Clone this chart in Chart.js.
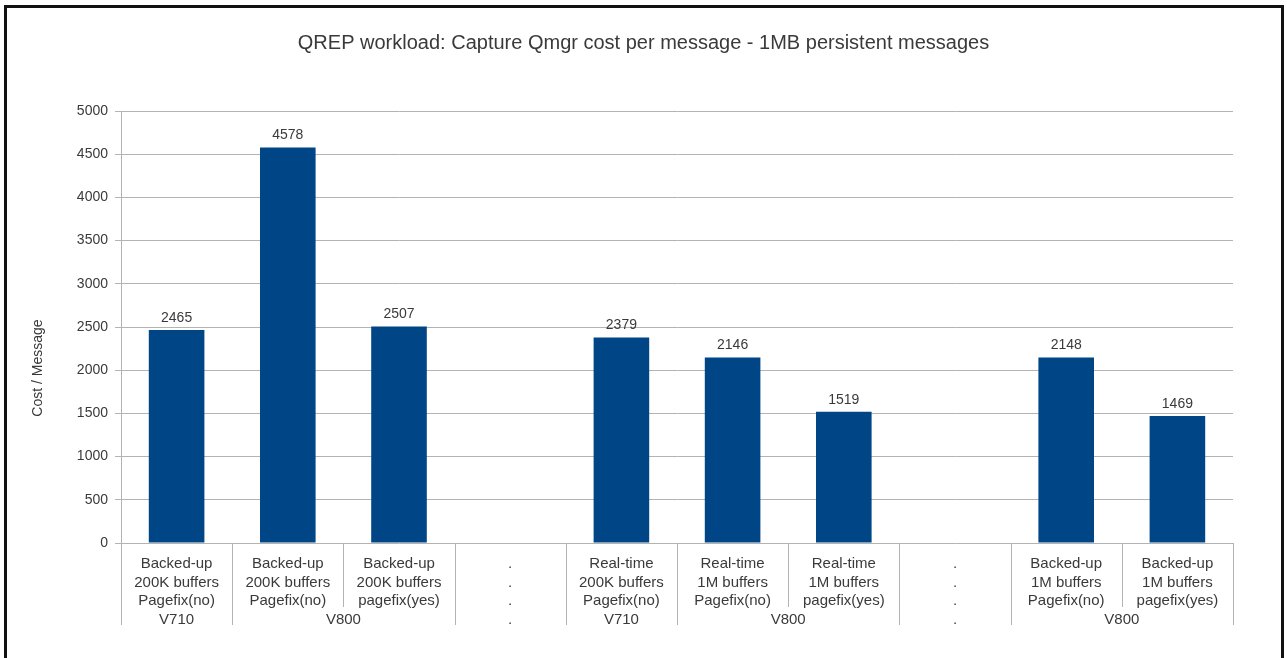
<!DOCTYPE html>
<html>
<head>
<meta charset="utf-8">
<script src="https://cdn.jsdelivr.net/npm/chart.js@4.4.1/dist/chart.umd.min.js"></script>
<style>
  html, body { margin: 0; padding: 0; background: #fff; overflow: hidden; }
  #wrap { position: relative; width: 1287px; height: 658px; }
  #frame {
    position: absolute; left: 4px; top: 5px; width: 1274px; height: 700px;
    border: 3px solid #111; box-sizing: content-box; pointer-events: none;
  }
  canvas { position: absolute; left: 0; top: 0; }
</style>
</head>
<body>
<div id="wrap">
  <canvas id="chart" width="1287" height="658"></canvas>
  <div id="frame"></div>
</div>
<script>
// data
const categories = [
    ["Backed-up", "200K buffers", "Pagefix(no)"],
    ["Backed-up", "200K buffers", "Pagefix(no)"],
    ["Backed-up", "200K buffers", "pagefix(yes)"],
    [".", ".", "."],
    ["Real-time", "200K buffers", "Pagefix(no)"],
    ["Real-time", "1M buffers", "Pagefix(no)"],
    ["Real-time", "1M buffers", "pagefix(yes)"],
    [".", ".", "."],
    ["Backed-up", "1M buffers", "Pagefix(no)"],
    ["Backed-up", "1M buffers", "pagefix(yes)"]
];
const costPerMessage = [2465, 4578, 2507, null, 2379, 2146, 1519, null, 2148, 1469];
const groupLabels = ["V710", "V800", ".", "V710", "V800", ".", "V800"];
const groupSpans = [1, 2, 1, 1, 2, 1, 2];
const yTicks = [0, 500, 1000, 1500, 2000, 2500, 3000, 3500, 4000, 4500, 5000];
const chartTitle = 'QREP workload: Capture Qmgr cost per message - 1MB persistent messages';
const yTitle = 'Cost / Message';

const textColor = '#3a3a3a';
const gridColor = '#b3b3b3';
const barColor = '#004586';
const fontFamily = '"Liberation Sans", Arial, sans-serif';

// value labels above the bars
const valueLabels = {
    id: 'valueLabels',
    afterDatasetsDraw(chart) {
        const ctx = chart.ctx;
        const meta = chart.getDatasetMeta(0);
        ctx.save();
        ctx.font = '14px ' + fontFamily;
        ctx.fillStyle = textColor;
        ctx.textAlign = 'center';
        ctx.textBaseline = 'bottom';
        meta.data.forEach((bar, i) => {
            const v = costPerMessage[i];
            if (v == null) return;
            ctx.fillText(String(v), bar.x, bar.y - 5);
        });
        ctx.restore();
    }
};

// title, y title, second row of the category axis (versions) + divider lines
const extras = {
    id: 'extras',
    afterDraw(chart) {
        const ctx = chart.ctx;
        const x = chart.scales.x;
        const n = categories.length;
        const step = x.getPixelForValue(1) - x.getPixelForValue(0);
        const edge = i => x.getPixelForValue(i) - step / 2;
        const top = x.top;
        const shortBottom = top + 64;
        const fullBottom = top + 82;

        const bounds = [0];
        groupSpans.forEach(s => bounds.push(bounds[bounds.length - 1] + s));

        ctx.save();
        ctx.strokeStyle = gridColor;
        ctx.lineWidth = 1;
        for (let i = 0; i <= n; i++) {
            const px = Math.round(edge(i)) + 0.5;
            const full = bounds.includes(i);
            ctx.beginPath();
            ctx.moveTo(px, top);
            ctx.lineTo(px, full ? fullBottom : shortBottom);
            ctx.stroke();
        }

        ctx.font = '15px ' + fontFamily;
        ctx.fillStyle = textColor;
        ctx.textAlign = 'center';
        ctx.textBaseline = 'middle';
        groupLabels.forEach((lbl, g) => {
            const cx = (edge(bounds[g]) + edge(bounds[g + 1])) / 2;
            ctx.fillText(lbl, cx, top + 77);
        });

        // chart title, centred on the whole picture
        ctx.font = '20px ' + fontFamily;
        ctx.fillText(chartTitle, chart.width / 2, 43);

        // y axis title
        ctx.save();
        ctx.font = '14px ' + fontFamily;
        ctx.translate(38, (chart.chartArea.top + fullBottom) / 2);
        ctx.rotate(-Math.PI / 2);
        ctx.fillText(yTitle, 0, 0);
        ctx.restore();
        ctx.restore();
    }
};

const ctx = document.getElementById('chart').getContext('2d');
new Chart(ctx, {
    type: 'bar',
    data: {
        labels: categories,
        datasets: [{
            label: yTitle,
            data: costPerMessage,
            backgroundColor: barColor,
            borderWidth: 0,
            barPercentage: 0.5,
            categoryPercentage: 1.0
        }]
    },
    options: {
        responsive: false,
        animation: false,
        layout: { padding: { left: 0, right: 54, top: 111, bottom: 0 } },
        plugins: {
            legend: { display: false },
            tooltip: { enabled: false },
            title: { display: false }
        },
        scales: {
            x: {
                offset: true,
                grid: { display: false },
                border: { display: false },
                ticks: {
                    color: textColor,
                    font: { family: fontFamily, size: 15, lineHeight: 1.22 },
                    padding: 4,
                    maxRotation: 0,
                    autoSkip: false
                },
                afterFit(scale) { scale.height = 115; }
            },
            y: {
                min: 0,
                max: 5000,
                afterBuildTicks(scale) { scale.ticks = yTicks.map(v => ({ value: v })); },
                grid: { color: gridColor, tickLength: 6 },
                border: { color: gridColor },
                ticks: {
                    color: textColor,
                    font: { family: fontFamily, size: 14 },
                    padding: 7,
                    callback: v => String(v)
                },
                afterFit(scale) { scale.width = 121; }
            }
        }
    },
    plugins: [valueLabels, extras]
});
</script>
</body>
</html>
